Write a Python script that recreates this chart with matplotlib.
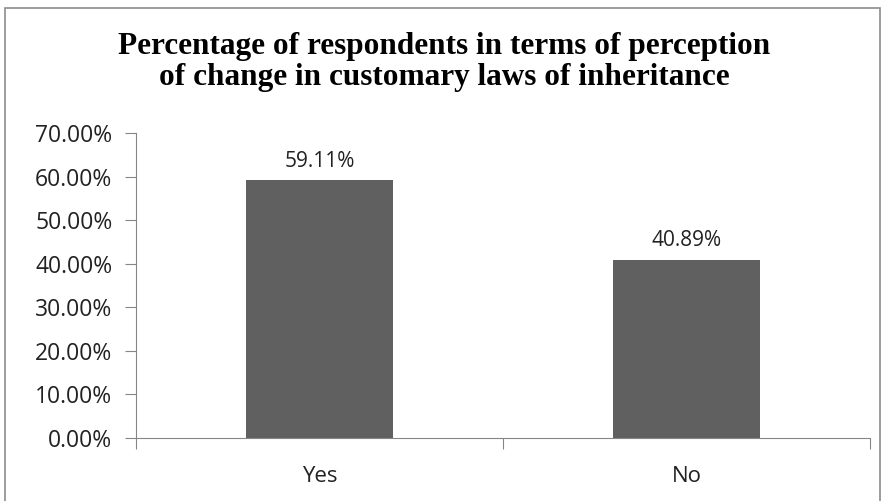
import matplotlib.pyplot as plt
from matplotlib.patches import Rectangle
from matplotlib.ticker import FuncFormatter

categories = ['Yes', 'No']
values = [59.11, 40.89]
value_labels = ['59.11%', '40.89%']
y_ticks = [0, 10, 20, 30, 40, 50, 60, 70]

W, H = 888, 501
fig = plt.figure(figsize=(W / 100, H / 100), dpi=100)

# outer chart frame
fig.patches.append(Rectangle((5 / W, -0.02), 875 / W, 1 - 8 / H + 0.02,
                             transform=fig.transFigure, fill=False,
                             edgecolor='#8c8c8c', linewidth=1.2))

ax = fig.add_axes([136 / W, 1 - 438 / H, (870 - 136) / W, (438 - 133) / H])
x = list(range(len(categories)))
ax.bar(x, values, width=0.40, color='#606060')

for xi, v, lab in zip(x, values, value_labels):
    ax.text(xi, v + 2.0, lab, ha='center', va='bottom', fontsize=15,
            family='Open Sans', color='#222222')

ax.set_xlim(-0.5, 1.5)
ax.set_ylim(0, 70)
ax.set_yticks(y_ticks)
ax.yaxis.set_major_formatter(FuncFormatter(lambda v, p: '%.2f%%' % v))
ax.set_xticks([-0.5, 0.5, 1.5])
ax.set_xticklabels([])
ax.set_xticks(x, minor=True)
ax.set_xticklabels(categories, minor=True)
ax.tick_params(axis='x', which='minor', length=0, pad=20, labelsize=16)
ax.tick_params(axis='x', which='major', length=8, color='#868686')
ax.tick_params(axis='y', length=8, color='#868686', labelsize=16.5, pad=9)
for lab in ax.get_yticklabels() + ax.get_xticklabels(minor=True):
    lab.set_family('Open Sans')
    lab.set_color('#222222')

for s in ['top', 'right']:
    ax.spines[s].set_visible(False)
for s in ['left', 'bottom']:
    ax.spines[s].set_color('#868686')

fig.text(0.5, 1 - 62 / H,
         'Percentage of respondents in terms of perception\nof change in customary laws of inheritance',
         ha='center', va='center', fontsize=22.5, fontweight='bold',
         family='Liberation Serif', linespacing=1.1)

fig.savefig('out.png', dpi=100)
